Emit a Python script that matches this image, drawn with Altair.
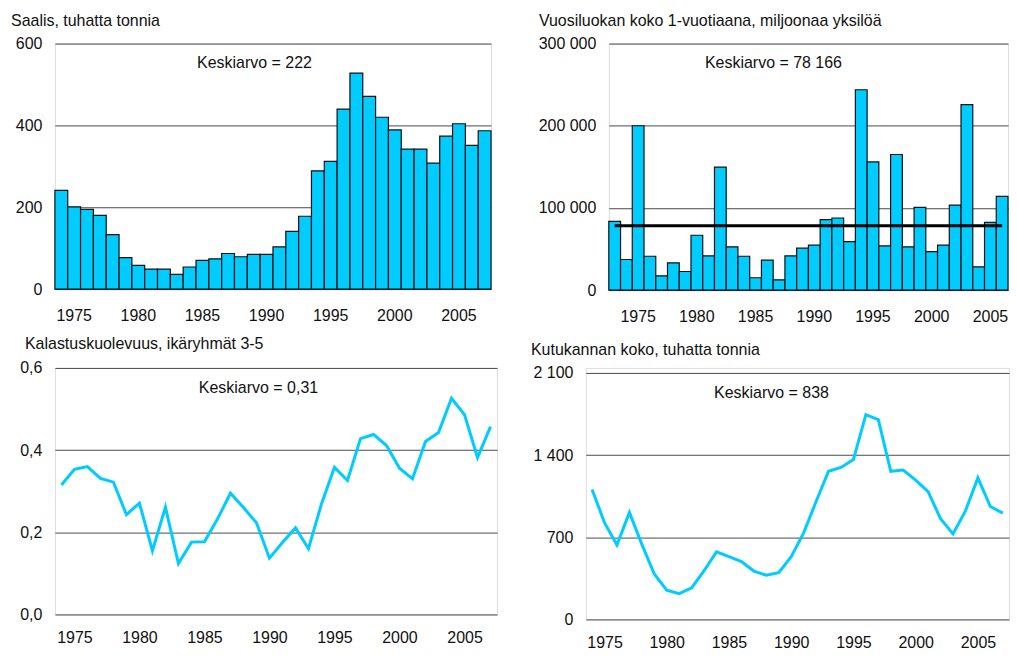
import altair as alt
import pandas as pd

FONT = "Liberation Sans"
BLUE = "#00CCFF"
INK = "#111111"

# ---- data ----
catch_years = list(range(1974, 2008))
catch = [241, 201, 195, 180, 133, 77, 58, 49, 49, 36, 54, 70, 74, 87, 79, 85, 85,
         103, 141, 178, 289, 312, 440, 528, 471, 420, 389, 342, 342, 308, 374, 404,
         351, 387]

rec_years = list(range(1973, 2007))
recruit = [83700, 37200, 200000, 41200, 17400, 33200, 22600, 66700, 41600, 149600,
           52600, 41200, 15000, 36400, 12500, 41600, 51000, 54600, 85700, 87700,
           59000, 243800, 156000, 53800, 165000, 52600, 100700, 46900, 54600,
           103500, 225600, 28300, 82500, 114000]
recruit_mean = 78166

f_years = list(range(1974, 2008))
fmort = [0.315, 0.353, 0.360, 0.331, 0.322, 0.243, 0.271, 0.155, 0.261, 0.124,
         0.176, 0.177, 0.232, 0.295, 0.260, 0.223, 0.137, 0.175, 0.211, 0.160,
         0.269, 0.358, 0.326, 0.428, 0.438, 0.411, 0.356, 0.330, 0.421, 0.443,
         0.526, 0.486, 0.382, 0.457]

ssb_years = list(range(1974, 2008))
ssb = [1107, 824, 634, 911, 639, 387, 250, 219, 269, 415, 575, 535, 493, 412, 376,
       398, 535, 737, 1004, 1262, 1295, 1363, 1744, 1702, 1262, 1273, 1186, 1088,
       858, 729, 925, 1206, 962, 906]

label_years = [1975, 1980, 1985, 1990, 1995, 2000, 2005]

titles = ["Saalis, tuhatta tonnia",
          "Vuosiluokan koko 1-vuotiaana, miljoonaa yksilöä",
          "Kalastuskuolevuus, ikäryhmät 3-5",
          "Kutukannan koko, tuhatta tonnia"]
notes = ["Keskiarvo = 222", "Keskiarvo = 78 166", "Keskiarvo = 0,31", "Keskiarvo = 838"]


def text_layer(txt, x, y, align, opacity=1):
    return alt.Chart(pd.DataFrame({"t": [txt]})).mark_text(
        align=align, baseline="alphabetic", font=FONT, fontSize=16, color=INK,
        opacity=opacity
    ).encode(x=alt.value(x), y=alt.value(y), text="t:N")


def panel(years, values, kind, width, height, domain, grid_vals, label_expr,
          title, tdx, tdy, note, nx, ny, xpad, extra=None):
    df = pd.DataFrame({"year": years, "value": values})
    if kind == "bar":
        xscale = alt.Scale(type="band", paddingInner=0, paddingOuter=0)
    else:
        xscale = alt.Scale(type="point", padding=0.5)
    x = alt.X("year:O", title=None, scale=xscale,
              axis=alt.Axis(values=label_years, labelAngle=0, ticks=False,
                            domain=False, grid=False, labelPadding=xpad,
                            labelFontSize=16, labelFont=FONT, labelColor=INK))
    yaxis = dict(values=grid_vals, ticks=False, domain=False, grid=True,
                 gridColor="#4a4a4a", gridWidth=1, labelPadding=13,
                 labelFontSize=16, labelFont=FONT, labelColor=INK)
    if label_expr:
        yaxis["labelExpr"] = label_expr
    y = alt.Y("value:Q", title=None,
              scale=alt.Scale(domain=domain, nice=False, zero=True),
              axis=alt.Axis(**yaxis))
    base = alt.Chart(df)
    if kind == "bar":
        main = base.mark_bar(color=BLUE, stroke=INK, strokeWidth=1.2).encode(x=x, y=y)
    else:
        main = base.mark_line(color=BLUE, strokeWidth=3).encode(x=x, y=y)
    layers = [main]
    if extra is not None:
        layers.append(extra(x, y))
    layers.append(text_layer(title, tdx, tdy, "left"))
    layers.append(text_layer(note, nx, ny, "center"))
    return alt.layer(*layers).properties(width=width, height=height)


def mean_line(x, y):
    d = pd.DataFrame({"year": [rec_years[0], rec_years[-1]],
                      "value": [recruit_mean, recruit_mean]})
    return alt.Chart(d).mark_line(color="black", strokeWidth=3).encode(x=x, y=y)


p1 = panel(catch_years, catch, "bar", 437, 246, [0, 600], [0, 200, 400, 600], None,
           titles[0], -44, -18, notes[0], 200, 24, 18)
p2 = panel(rec_years, recruit, "bar", 400, 247, [0, 300000],
           [0, 100000, 200000, 300000],
           "datum.value == 0 ? '0' : format(datum.value / 1000, 'd') + ' 000'",
           titles[1], -70, -18, notes[1], 165, 24, 18, extra=mean_line)
p3 = panel(f_years, fmort, "line", 443, 247, [0, 0.6], [0, 0.2, 0.4, 0.6],
           "replace(format(datum.value, '.1f'), '.', ',')",
           titles[2], -30, -19, notes[2], 204, 25, 15)
p3 = alt.layer(p3, text_layer(".", -44, -19, "left", opacity=0))
p4 = panel(ssb_years, ssb, "line", 424, 252, [0, 2142.5], [0, 700, 1400, 2100],
           "datum.value >= 1000 ? floor(datum.value / 1000) + ' ' + format(datum.value % 1000, '03d') : format(datum.value, 'd')",
           titles[3], -55, -13, notes[3], 186, 30, 15)

row1 = alt.hconcat(p1, p2, spacing=118, bounds="flush")
row2 = alt.hconcat(p3, p4, spacing=89, bounds="flush")

chart = alt.vconcat(row1, row2, spacing=10).properties(
    padding={"left": 2, "top": 3, "right": 0, "bottom": 0}
).configure_view(stroke=None).configure(font=FONT)

chart.save("out.html", embed_options={"renderer": "svg", "actions": False})
